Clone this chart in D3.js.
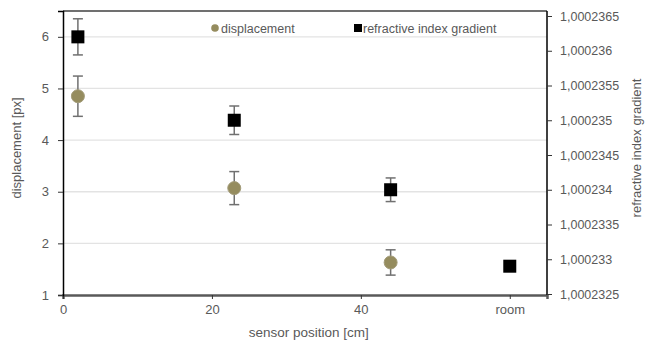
<!DOCTYPE html>
<html>
<head>
<meta charset="utf-8">
<script src="https://cdn.jsdelivr.net/npm/d3@7"></script>
<style>
  body { margin: 0; background: #fff; }
  text { font-family: "Liberation Sans", Arial, sans-serif; fill: #595959; }
</style>
</head>
<body>
<div id="chart"></div>
<script>
// Data
const positions = [2, 23, 44];
const displacement = [4.85, 3.07, 1.63];
const displacementErr = [0.39, 0.32, 0.245];

const rigPositions = [2, 23, 44, 60];
const refractive = [1.0002362, 1.000235, 1.000234, 1.0002329];
const refractiveErr = [0.00000026, 0.000000205, 0.00000017, 0];

const xTicks = [0, 20, 40, 60];
const xTickLabels = ['0', '20', '40', 'room'];
const leftTicks = [1, 2, 3, 4, 5, 6];
const rightTicks = [1.0002325, 1.000233, 1.0002335, 1.000234, 1.0002345, 1.000235, 1.0002355, 1.000236, 1.0002365];

const width = 645, height = 342;
const margin = { top: 11, right: 98, bottom: 47, left: 63 };
const plotW = width - margin.left - margin.right;
const plotH = height - margin.top - margin.bottom;

const svg = d3.select('#chart')
    .append('svg')
    .attr('width', width)
    .attr('height', height);

const g = svg.append('g')
    .attr('transform', `translate(${margin.left},${margin.top})`);

const x = d3.scaleLinear().domain([0, 65]).range([0, plotW]);
const yL = d3.scaleLinear().domain([1, 6.5]).range([plotH, 0]);
// right axis top tick sits a bit below the frame
const yR = d3.scaleLinear().domain([1.0002325, 1.0002365]).range([plotH - 1, 5]);

// gridlines
g.selectAll('line.grid')
    .data(leftTicks.slice(1))
    .enter()
    .append('line')
    .attr('class', 'grid')
    .attr('x1', 0)
    .attr('x2', plotW)
    .attr('y1', d => yL(d))
    .attr('y2', d => yL(d))
    .attr('stroke', '#e3e3e3')
    .attr('stroke-width', 1.3);

// top frame line
g.append('line')
    .attr('x1', 0).attr('x2', plotW)
    .attr('y1', 0).attr('y2', 0)
    .attr('stroke', '#404040')
    .attr('stroke-width', 1.5);

// axes
const xAxis = g.append('g')
    .attr('transform', `translate(0,${plotH})`)
    .call(d3.axisBottom(x).tickValues(xTicks).tickFormat((d, i) => xTickLabels[i]).tickSize(4).tickPadding(6));
xAxis.select('.domain').attr('stroke', '#595959').attr('stroke-width', 2.5);

const leftAxis = g.append('g')
    .call(d3.axisLeft(yL).tickValues(leftTicks).tickFormat(d3.format('d')).tickSize(5).tickPadding(9));
leftAxis.select('.domain').attr('stroke', '#000').attr('stroke-width', 1.5);

const fmtR = v => v.toFixed(7).replace(/0+$/, '').replace('.', ',');
const rightAxis = g.append('g')
    .attr('transform', `translate(${plotW},0)`)
    .call(d3.axisRight(yR).tickValues(rightTicks).tickFormat(fmtR).tickSize(5).tickPadding(8));
rightAxis.select('.domain').attr('stroke', '#000').attr('stroke-width', 1.5)
    .attr('d', `M0,0V${plotH}`);

[xAxis, leftAxis, rightAxis].forEach(a => {
    a.selectAll('.tick line').attr('stroke', '#333');
    a.selectAll('.tick text').attr('font-size', 13).attr('fill', '#595959')
        .attr('font-family', '"Liberation Sans", Arial, sans-serif');
});
rightAxis.selectAll('.tick text').attr('font-size', 12.5);

// axis titles
svg.append('text')
    .attr('x', margin.left + x(33))
    .attr('y', 337)
    .attr('text-anchor', 'middle')
    .attr('font-size', 13.5)
    .text('sensor position [cm]');

svg.append('text')
    .attr('transform', `translate(21,${margin.top + plotH / 2 - 5}) rotate(-90)`)
    .attr('text-anchor', 'middle')
    .attr('font-size', 13)
    .text('displacement [px]');

svg.append('text')
    .attr('transform', `translate(641,${margin.top + plotH / 2 - 5}) rotate(-90)`)
    .attr('text-anchor', 'middle')
    .attr('font-size', 13)
    .text('refractive index gradient');

// error bars
function errorBars(xs, ys, errs, scale) {
    const data = xs.map((d, i) => ({ x: d, y: ys[i], e: errs[i] })).filter(d => d.e > 0);
    const eg = g.append('g').attr('stroke', '#707070').attr('stroke-width', 1.5);
    data.forEach(d => {
        const cx = x(d.x);
        const y1 = scale(d.y + d.e), y2 = scale(d.y - d.e);
        eg.append('line').attr('x1', cx).attr('x2', cx).attr('y1', y1).attr('y2', y2);
        eg.append('line').attr('x1', cx - 5).attr('x2', cx + 5).attr('y1', y1).attr('y2', y1);
        eg.append('line').attr('x1', cx - 5).attr('x2', cx + 5).attr('y1', y2).attr('y2', y2);
    });
}
errorBars(positions, displacement, displacementErr, yL);
errorBars(rigPositions, refractive, refractiveErr, yR);

// displacement points
g.selectAll('circle.disp')
    .data(positions)
    .enter()
    .append('circle')
    .attr('class', 'disp')
    .attr('cx', d => x(d))
    .attr('cy', (d, i) => yL(displacement[i]))
    .attr('r', 6.5)
    .attr('fill', '#958c5e')
    .attr('stroke', '#a39c7a')
    .attr('stroke-width', 1);

// refractive index points
const sq = 13;
g.selectAll('rect.ref')
    .data(rigPositions)
    .enter()
    .append('rect')
    .attr('class', 'ref')
    .attr('x', d => x(d) - sq / 2)
    .attr('y', (d, i) => yR(refractive[i]) - sq / 2)
    .attr('width', sq)
    .attr('height', sq)
    .attr('fill', '#000');

// legend
const legend = svg.append('g').attr('transform', 'translate(215,28)');
legend.append('circle').attr('cx', 0).attr('cy', 0).attr('r', 3.8).attr('fill', '#958c5e');
legend.append('text').attr('x', 6).attr('y', 4.5).attr('font-size', 12.5).text('displacement');
legend.append('rect').attr('x', 139).attr('y', -4).attr('width', 8).attr('height', 8).attr('fill', '#000');
legend.append('text').attr('x', 148).attr('y', 4.5).attr('font-size', 12.5).text('refractive index gradient');
</script>
</body>
</html>
